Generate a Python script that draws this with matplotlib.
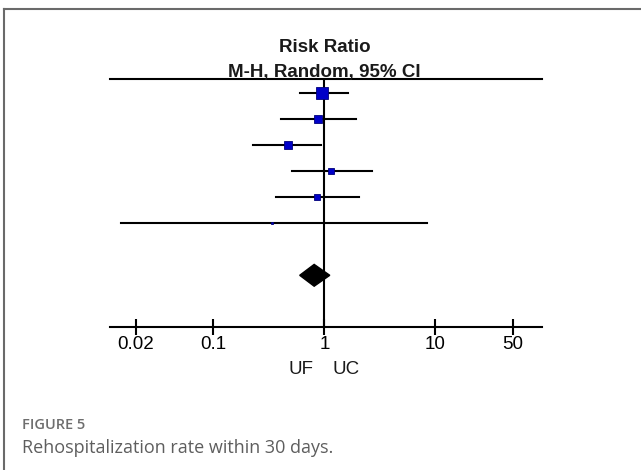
import numpy as np
import matplotlib
matplotlib.use("Agg")
import matplotlib.pyplot as plt
from matplotlib.patches import Polygon
from matplotlib.lines import Line2D

# Study estimates (risk ratio with 95% CI), top to bottom
rr = [0.96, 0.88, 0.47, 1.16, 0.86, 0.34]
ci_low = [0.60, 0.41, 0.23, 0.51, 0.37, 0.0147]
ci_high = [1.62, 1.93, 0.94, 2.71, 2.05, 8.45]
weights = [43.2, 14.7, 19.2, 10.8, 10.8, 1.2]  # percent

# Pooled estimate
pooled = 0.81
pooled_low = 0.60
pooled_high = 1.12

tick_vals = [0.02, 0.1, 1, 10, 50]
tick_labels = ["0.02", "0.1", "1", "10", "50"]

W, H = 641, 470
DPI = 100
fig = plt.figure(figsize=(W / DPI, H / DPI), dpi=DPI)
fig.patch.set_facecolor("white")

def fx(px):
    return px / W

def fy(py):
    return 1 - py / H

# axes spans from the top rule to the x axis line
ax = fig.add_axes([fx(110), fy(327.3), fx(542) - fx(110), fy(79.3) - fy(327.3)])
ax.set_xscale("log")
ax.set_xlim(0.01173, 91.4)
ax.set_ylim(10, 0.46)

for s in ["left", "right"]:
    ax.spines[s].set_visible(False)
for s in ["top", "bottom"]:
    ax.spines[s].set_linewidth(1.5)
    ax.spines[s].set_color("black")

ax.set_xticks(tick_vals)
ax.set_xticklabels(tick_labels, fontfamily="Liberation Sans", fontsize=13.5)
ax.xaxis.set_minor_locator(matplotlib.ticker.NullLocator())
ax.tick_params(axis="x", direction="inout", length=11, width=1.5, pad=1)
ax.set_yticks([])

ax.axvline(1, color="black", lw=1.5, zorder=1)

rows = np.arange(1, len(rr) + 1)
for y, est, lo, hi, w in zip(rows, rr, ci_low, ci_high, weights):
    ax.plot([lo, hi], [y, y], color="black", lw=1.5, zorder=2)
    side_px = 1.85 * np.sqrt(w)
    ax.plot(est, y, marker="s", markersize=side_px * 0.72,
            markerfacecolor="#0000c8", markeredgecolor="#00007a",
            markeredgewidth=0.6, zorder=3)

yd = len(rr) + 2
half = 0.42
ax.add_patch(Polygon([(pooled_low, yd), (pooled, yd - half),
                      (pooled_high, yd), (pooled, yd + half)],
                     closed=True, facecolor="black", edgecolor="black", zorder=3))

# headings
fig.text(fx(324.5), fy(51.7), "Risk Ratio", ha="center", va="baseline",
         fontfamily="Liberation Sans", fontweight="bold", fontsize=13.5, color="#1a1a1a")
fig.text(fx(324.5), fy(77.5), "M-H, Random, 95% CI", ha="center", va="baseline",
         fontfamily="Liberation Sans", fontweight="bold", fontsize=13.5, color="#1a1a1a")

# favours labels
fig.text(fx(314), fy(370), "UF", ha="right", va="center",
         fontfamily="Liberation Sans", fontsize=13.5, color="#1a1a1a")
fig.text(fx(333), fy(370), "UC", ha="left", va="center",
         fontfamily="Liberation Sans", fontsize=13.5, color="#1a1a1a")

# frame of the figure panel
fig.add_artist(Line2D([fx(4), fx(4)], [fy(9), 0], transform=fig.transFigure,
                      color="#6a6a6a", lw=1.5))
fig.add_artist(Line2D([fx(4), 1], [fy(9), fy(9)], transform=fig.transFigure,
                      color="#6a6a6a", lw=1.5))

# caption
fig.text(fx(22), fy(425), "FIGURE 5", ha="left", va="center",
         fontfamily="Open Sans", fontweight="semibold", fontsize=10.5, color="#6e6e6e")
fig.text(fx(22), fy(448), "Rehospitalization rate within 30 days.", ha="left", va="center",
         fontfamily="Open Sans", fontsize=13, color="#5e5e5e")

fig.savefig("out.png", dpi=DPI)
